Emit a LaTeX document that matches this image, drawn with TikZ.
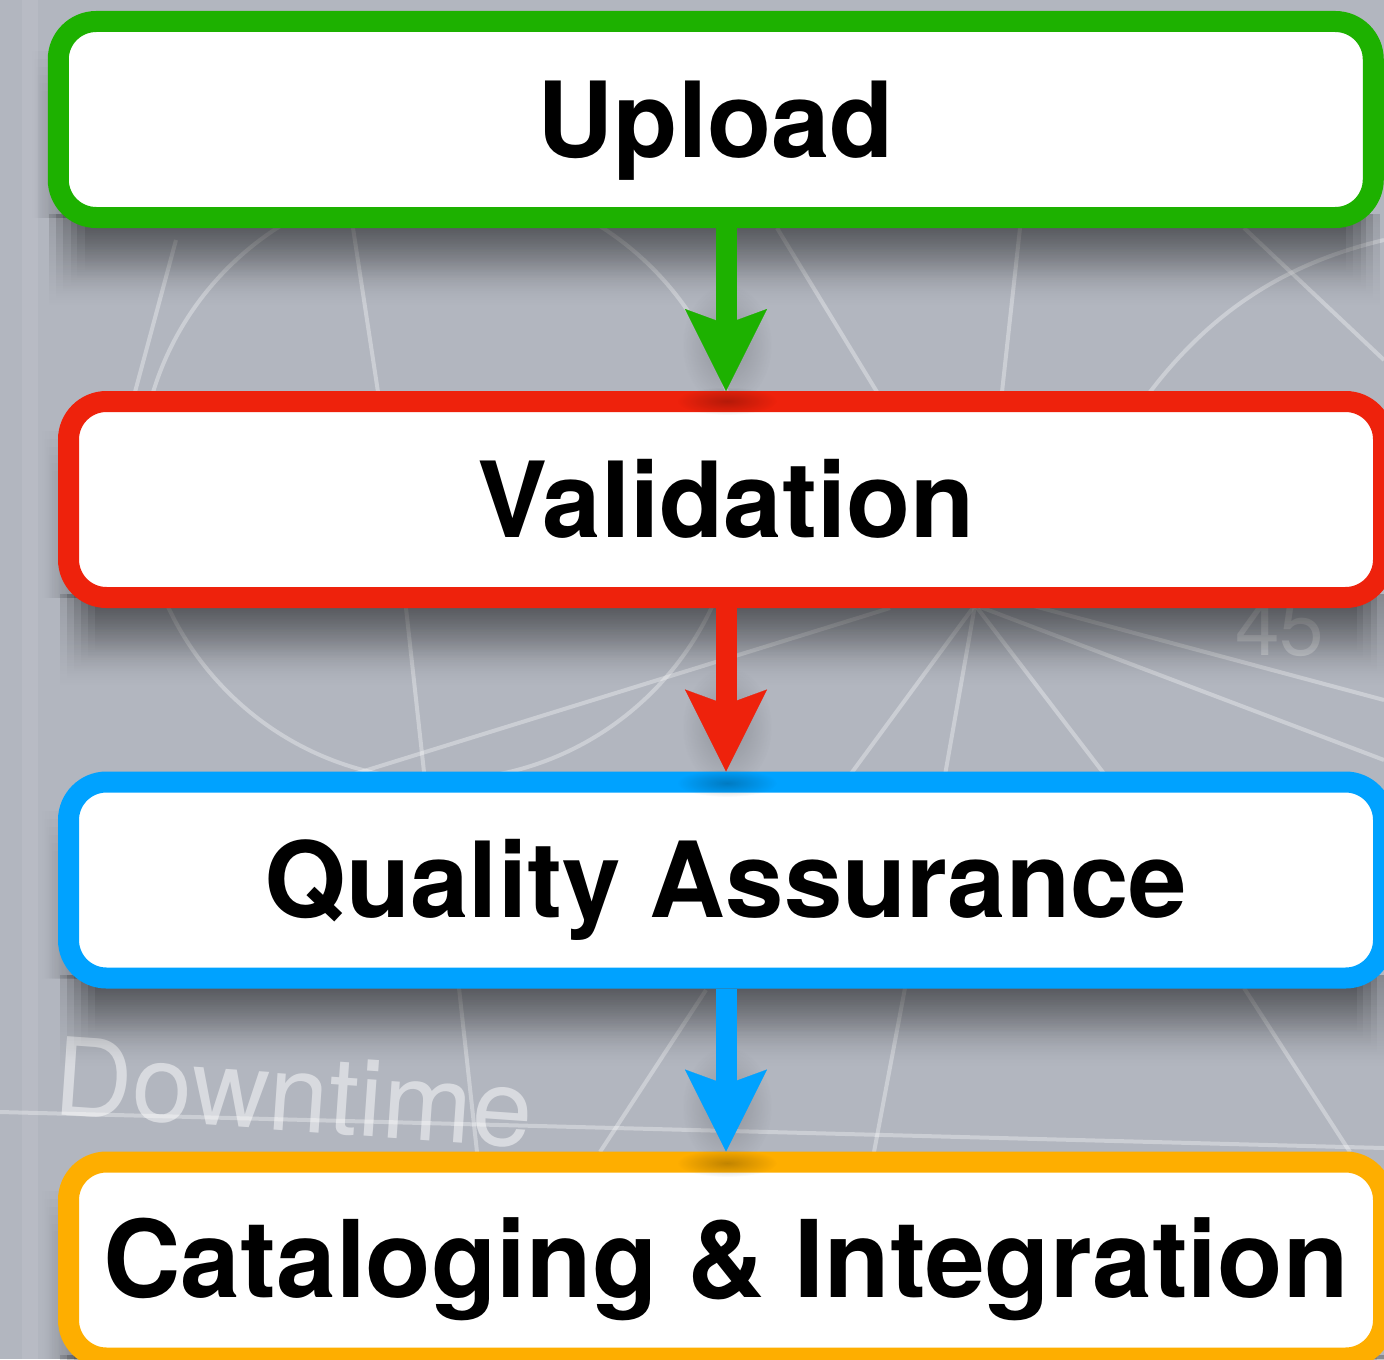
\documentclass[tikz,border=0pt]{standalone}
\usepackage{fontspec}
\setmainfont{TeX Gyre Heros}
\usetikzlibrary{arrows.meta,calc,fadings}
\definecolor{kgreen}{RGB}{29,177,0}
\definecolor{kred}{RGB}{238,34,12}
\definecolor{kblue}{RGB}{0,162,255}
\definecolor{korange}{RGB}{254,174,0}
\definecolor{bggray}{RGB}{178,182,191}
\tikzfading[name=shadedown, top color=transparent!35, bottom color=transparent!100]
\tikzfading[name=shadeleft, right color=transparent!50, left color=transparent!100]
\tikzfading[name=softspot, inner color=transparent!20, outer color=transparent!100]
\pgfdeclarelayer{bglayer}
\pgfdeclarelayer{shadelayer}
\pgfsetlayers{bglayer,shadelayer,main}
\newcommand\boxshade[1]{%
  \foreach \k in {0,...,5}{%
    \fill[black,opacity=0.2,path fading=shadedown]
      ($(#1.south west)+(2+7*\k,-14)$) rectangle ($(#1.south east)+(-2-7*\k,78-7*\k)$);
    \fill[black,opacity=0.1,path fading=shadeleft]
      ($(#1.north west)+(-18+2*\k,40+8*\k)$) rectangle ($(#1.south west)+(25,-10)$);}}
\begin{document}
\begin{tikzpicture}[x=0.5pt,y=-0.5pt,
  stage/.style={draw, line width=10.5pt, fill=white, rounded corners=19pt,
    minimum width=657.5pt, minimum height=98pt, inner sep=0pt,
    font=\fontsize{52.5}{60}\selectfont\bfseries, text height=37.7pt, text depth=0pt},
  flow/.style={line width=10.5pt,
    -{Stealth[length=41pt,width=41pt,inset=7.5pt,line width=0.1pt]}},
  bgline/.style={white, opacity=0.33, line width=2pt},
  bgtext/.style={text=white, opacity=0.5, inner sep=0pt}]
\useasboundingbox (0,0) rectangle (1384,1359);

% stages
\node[stage, draw=kgreen] (up) at (715.75,119.5) {Upload};
\node[stage, draw=kred] (val) at (726,499.5) {Validation};
\node[stage, draw=kblue] (qa) at (726,880) {Quality Assurance};
\node[stage, draw=korange, font=\fontsize{53.6}{60}\selectfont\bfseries] (cat) at (726,1260) {Cataloging \& Integration};

% background
\begin{pgfonlayer}{bglayer}
\fill[bggray] (0,0) rectangle (1384,1359);
\draw[white,opacity=0.08,line width=8pt] (30,0) -- (30,1359);
\draw[bgline] (440,480) circle (300);
\draw[bgline] (335,780) -- (890,608);
\draw[bgline] (975,605) -- (850,775);
\draw[bgline] (975,605) -- (945,775);
\draw[bgline] (975,605) -- (1105,775);
\draw[bgline] (975,605) -- (1384,760);
\draw[bgline] (1030,605) -- (1384,700);
\draw[bgline] (353,228) -- (378,392);
\draw[bgline] (1020,228) -- (1002,392);
\draw[bgline] (777,228) -- (877,392);
\draw[bgline] (1244,228) -- (1384,360);
\draw[bgline] (1150,392) .. controls (1220,300) and (1300,260) .. (1384,240);
\draw[bgline] (176,240) -- (135,392);
\draw[bgline] (406,608) -- (424,772);
\draw[bgline] (459,988) -- (477,1152);
\draw[bgline] (706,990) -- (600,1152);
\draw[bgline] (905,988) -- (874,1152);
\draw[bgline] (1244,988) -- (1350,1152);
\draw[bgline] (0,1112) -- (1384,1148);
\node[bgtext, anchor=base west, rotate=-4, font=\fontsize{54}{54}\selectfont] (dt) at (52,1114) {Downtime};
\node[bgtext, anchor=base west, opacity=0.35, font=\fontsize{40}{40}\selectfont] (ff) at (1235,655) {45};
\end{pgfonlayer}

% shadows
\begin{pgfonlayer}{shadelayer}
\boxshade{up}
\boxshade{val}
\boxshade{qa}
\boxshade{cat}
\foreach \yy in {345,727,1107}{
  \fill[black,opacity=0.25,path fading=softspot] (727,\yy) ellipse (45 and 60);}
\end{pgfonlayer}

% arrow-tip spots on the borders
\foreach \yy in {401,783,1163}{
  \fill[black,opacity=0.3,path fading=softspot] (727,\yy) ellipse (50 and 14);}

% connectors
\draw[flow, color=kgreen] (up.south -| val.north) -- (val.north);
\draw[flow, color=kred] (val.south) -- (qa.north);
\draw[flow, color=kblue] (qa.south) -- (cat.north);
\end{tikzpicture}
\end{document}
